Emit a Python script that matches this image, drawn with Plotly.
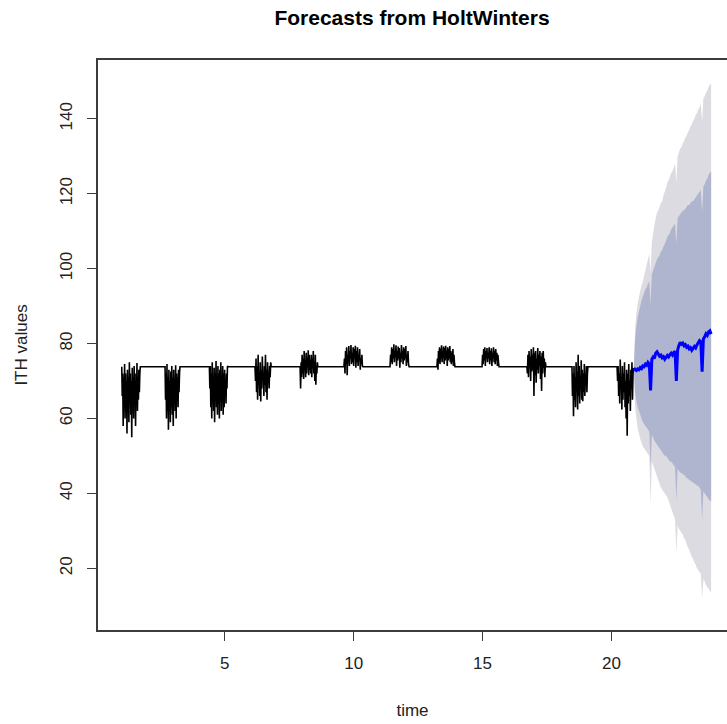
import numpy as np
import plotly.graph_objects as go

# ---- observed ITH series: daily bursts of readings, level value in between ----
LEVEL = 73.8

burst_spans = [
    (1.00, 1.72), (2.68, 3.26), (4.40, 5.12), (6.17, 6.80), (7.92, 8.61), (9.62, 10.36),
    (11.41, 12.15), (13.23, 13.93), (14.98, 15.64), (16.72, 17.46), (18.47, 19.09), (20.22, 20.86),
]

burst_values = [
    [73.8, 66, 72, 58, 71, 63, 74.5, 60, 72, 64, 70, 56, 73, 62, 71, 59, 75, 65, 72, 61,
     70, 55, 73.5, 63, 71, 60, 74, 66, 72, 58, 70, 64, 74.8, 62, 71, 65, 73, 67, 72, 73.8],
    [73.8, 65, 72, 60, 74.5, 62, 71, 57, 73, 64, 70, 59, 72.5, 63, 74, 61, 71, 58, 73, 65,
     70, 62, 74.2, 60, 72, 66, 71, 63, 73, 67, 72, 73.8],
    [73.8, 68, 74, 63, 72, 60, 75, 65, 71, 62, 73.5, 59, 72, 66, 75.3, 63, 70, 61, 74, 64,
     72, 60, 73, 67, 75, 62, 71, 65, 74, 61, 72, 63, 73, 66, 70, 64, 72, 68, 74, 73.8],
    [73.8, 70, 76, 67, 74, 65, 77, 69, 72, 66, 75, 64.5, 73, 68, 76.5, 70, 72, 66, 74, 69,
     77, 67, 73, 65, 75, 70, 72, 68, 74, 71, 75, 73.8],
    [73.8, 68, 75, 71, 77, 72, 76, 70.5, 78, 73, 75, 71, 77.5, 72, 76, 74, 78.2, 71.5, 77, 73,
     75.5, 72, 77, 71, 76, 73.5, 78, 72, 75, 70, 77, 69, 74, 72, 75, 73.8],
    [73.8, 76, 72, 78, 74.5, 79, 71.5, 77, 75, 79.3, 74, 78, 76, 79.6, 74.5, 77.5, 75, 79, 74, 78.5,
     76, 79.4, 73.5, 78, 75, 79, 74, 77, 75.5, 78.5, 73, 76, 74.5, 77, 74, 73.8],
    [73.8, 77, 75, 79, 74.5, 78.5, 76, 79.8, 75, 78, 76.5, 79.5, 74, 78, 75.5, 79.2, 76, 78.8, 73.5, 77.5,
     75, 79.6, 76, 78, 74.5, 79, 75.5, 78.5, 76, 79.3, 74, 77, 75, 78, 74.5, 73.8],
    [73.8, 76, 73, 78, 75, 79, 74.5, 78.5, 76, 79.5, 75, 78, 76.5, 79.2, 74.5, 78.8, 75.5, 79.4, 76, 78,
     74, 79, 75.5, 78.5, 76, 79.3, 75, 78, 74.5, 77.5, 75, 78.5, 74, 77, 75, 73.8],
    [73.8, 77, 74.5, 78.5, 75.5, 79, 74, 78, 76, 78.8, 75, 77.5, 76, 79, 74.5, 78, 75.5, 78.7, 74, 77.5,
     76, 79, 75, 78, 74.5, 78.5, 75.5, 77.5, 74, 77, 75, 73.8],
    [73.8, 72, 77, 71, 78, 74, 76.5, 70, 78.5, 72.5, 77, 73, 79, 66, 77.5, 71.5, 78, 69.5, 76, 73,
     78.8, 72, 77, 74, 78, 70.5, 76.5, 67.3, 77.5, 72, 78, 73.5, 76, 71, 75, 73.8],
    [73.8, 66, 72, 60.6, 74, 65, 71, 63, 75, 67, 72.5, 62.4, 77, 66, 74, 64, 71, 68, 75.5, 65,
     73, 64.6, 72, 67, 74.5, 66, 71, 69, 74, 67, 72, 73.8],
    [73.8, 70, 74, 66, 72, 64, 75.7, 68, 71, 62.4, 74, 65, 72, 67, 75, 63, 70, 60, 73, 55.4,
     72, 64, 74.5, 66, 70, 62, 73, 68, 75, 65, 72, 73.5],
]

# ---- HoltWinters forecast: point forecast with 80% and 95% intervals ----
FC_START, FC_END = 20.87, 23.87

fc_mean = [
    73.5, 73.0, 72.8, 73.2, 73.0, 73.6, 73.3, 74.0, 73.8, 74.5, 74.2, 75.0, 74.6, 67.5, 75.8, 76.4,
    76.0, 77.4, 77.8, 77.2, 76.6, 76.9, 76.2, 76.5, 75.8, 76.3, 76.8, 76.4, 77.0, 77.4, 76.9, 77.6,
    77.9, 70.0, 78.2, 79.5, 80.3, 79.8, 80.1, 79.4, 79.7, 79.0, 79.3, 78.6, 78.9, 78.2, 78.7, 79.2,
    78.8, 79.6, 80.2, 80.8, 80.5, 72.5, 81.2, 81.8, 82.6, 82.2, 83.1, 83.4, 82.5,
]
fc_hi95 = [
    73.5, 84, 88, 90.5, 92.5, 94, 95.5, 96.5, 98, 99.5, 101, 102.5, 104, 99, 107, 109.5,
    111.5, 113.5, 115, 115.5, 116.5, 117.5, 118, 119.5, 120.5, 121.5, 123, 123.5, 124.5, 125.5, 126, 127,
    128, 123, 130, 131, 132, 132.5, 133.5, 134, 135, 135.5, 136.5, 137, 138, 138.5, 139.5, 140,
    141, 141.5, 142.5, 143, 144, 139, 145.5, 146, 147, 147.5, 148.5, 149, 149.5,
]
fc_hi80 = [
    73.5, 81, 84.5, 87, 88.5, 90, 91.5, 92.5, 93.5, 94.5, 95, 96, 96.5, 90.5, 98.5, 99.5,
    100.5, 101.5, 102.5, 103, 103.5, 104.5, 105, 106, 106.5, 107.5, 108.5, 109, 109.5, 110.5, 111, 111.5,
    112, 106.5, 113.5, 114, 114.5, 115, 115.5, 115.5, 116, 116.5, 117, 117, 117.5, 118, 118, 118.5,
    119, 119.5, 120, 120.5, 121, 115, 122, 122.5, 123.5, 124, 125, 125.5, 126,
]
fc_lo80 = [
    73.5, 67, 64.5, 63, 62, 61, 60, 59, 58.5, 58, 57.5, 57, 56.5, 47, 55.5, 55,
    54, 53.5, 53, 52.5, 52, 51.5, 51, 50.5, 50, 50, 49.5, 49, 48.5, 48.5, 48, 47.5,
    47, 38, 46.5, 46, 45.5, 45.5, 45, 45, 44.5, 44, 44, 43.5, 43.5, 43, 43, 42.5,
    42.5, 42, 42, 41.5, 41, 33, 40.5, 40, 39.5, 39, 38.5, 38, 38,
]
fc_lo95 = [
    73.5, 63, 60, 57.5, 56, 54.5, 53.5, 52.5, 52, 51.5, 51, 50.5, 50, 37, 48.5, 47.5,
    46.5, 45.5, 44.5, 43.5, 42.5, 41.5, 41, 40.5, 40, 39.5, 39, 38, 37, 36, 35, 34,
    33, 24, 31.5, 30.5, 30, 29.5, 29, 28, 27.5, 26.5, 25.5, 25, 24, 23, 22.5, 21.5,
    21, 20, 19.5, 19, 18.5, 12, 17, 16.5, 15.5, 15, 14.5, 14, 13.5,
]

X_TICKS = [5, 10, 15, 20]
Y_TICKS = [20, 40, 60, 80, 100, 120, 140]

# ---- build the observed trace (bursts joined by the flat level segments) ----
obs_t, obs_v = [], []
for (t0, t1), vals in zip(burst_spans, burst_values):
    obs_t.extend(np.linspace(t0, t1, len(vals)).tolist())
    obs_v.extend(vals)

fc_t = np.linspace(FC_START, FC_END, len(fc_mean)).tolist()

FONT = "Liberation Sans, Arial, sans-serif"

fig = go.Figure()

# 95% band (outer) then 80% band (inner)
fig.add_trace(go.Scatter(
    x=fc_t + fc_t[::-1], y=fc_hi95 + fc_lo95[::-1],
    fill="toself", fillcolor="#DBDBE1", line=dict(width=0, simplify=False),
    mode="lines", hoverinfo="skip", showlegend=False,
))
fig.add_trace(go.Scatter(
    x=fc_t + fc_t[::-1], y=fc_hi80 + fc_lo80[::-1],
    fill="toself", fillcolor="#B0B5CF", line=dict(width=0, simplify=False),
    mode="lines", hoverinfo="skip", showlegend=False,
))
# observed series
fig.add_trace(go.Scatter(
    x=obs_t, y=obs_v, mode="lines",
    line=dict(color="black", width=1.6, simplify=False), showlegend=False,
))
# point forecast
fig.add_trace(go.Scatter(
    x=fc_t, y=fc_mean, mode="lines",
    line=dict(color="#0000FF", width=3, simplify=False), showlegend=False,
))

axis_common = dict(
    showgrid=False, zeroline=False,
    showline=True, linecolor="#3c3c3c", linewidth=1.5,
    ticks="outside", ticklen=9, tickwidth=1.3, tickcolor="#3c3c3c",
    tickfont=dict(family=FONT, size=17, color="#222"),
    automargin=False,
)

fig.update_layout(
    width=727, height=724,
    margin=dict(l=98, r=0, t=60, b=94),
    paper_bgcolor="white", plot_bgcolor="white",
    title=dict(
        text="Forecasts from HoltWinters",
        font=dict(family=FONT, size=21, color="black", weight="bold"),
        x=412 / 727, xanchor="center", xref="container",
        y=1 - 18 / 724, yanchor="middle", yref="container",
    ),
    xaxis=dict(
        axis_common, range=[0.078, 24.486], mirror=True,
        tickvals=X_TICKS, ticktext=[str(v) for v in X_TICKS],
        ticklabelstandoff=8,
        title=dict(text="time", font=dict(family=FONT, size=17, color="#222"), standoff=32),
    ),
    yaxis=dict(
        axis_common, range=[3.5, 155.7], mirror=False,
        tickvals=Y_TICKS, ticktext=[str(v) for v in Y_TICKS],
        tickangle=-90, ticklabelstandoff=8,
        title=dict(text="ITH values", font=dict(family=FONT, size=17, color="#222"), standoff=26),
    ),
)

fig.write_html("out.html", config={"displayModeBar": False})
